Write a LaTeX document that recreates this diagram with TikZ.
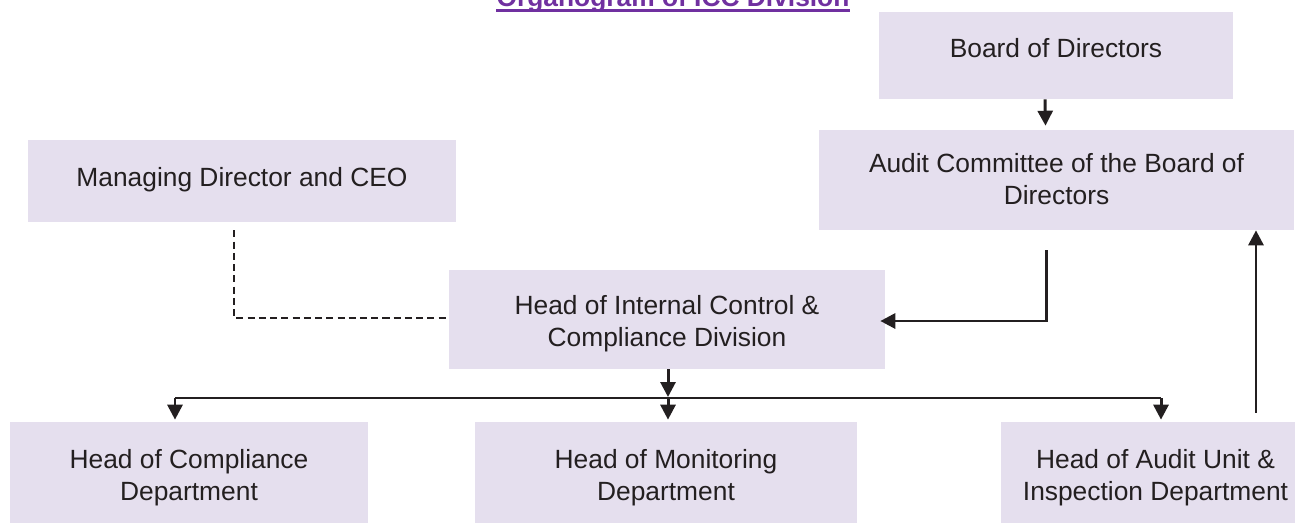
\documentclass[tikz,border=0pt]{standalone}
\usepackage{fontspec}
\setmainfont{Liberation Sans}
\usepackage{xcolor}
\usetikzlibrary{arrows.meta,positioning}
\definecolor{boxfill}{RGB}{229,223,238}
\definecolor{titlepurple}{RGB}{112,48,160}
\definecolor{ink}{RGB}{35,31,32}
\newcommand{\liftedtext}[2]{\raisebox{#1}[\height][\depth]{\begin{tabular}{@{}c@{}}#2\end{tabular}}}

\begin{document}
\begin{tikzpicture}[x=0.02cm,y=-0.02cm,
      font=\fontsize{15}{18.2}\selectfont,
      bx/.style={fill=boxfill,draw=none,align=center,text=ink,inner sep=0pt},
      ln/.style={draw=ink,line width=1.7pt},
      arr/.style={ln,-{Triangle[length=8.5pt,width=8.5pt]}},
      dsh/.style={draw=ink,line width=0.9pt,dash pattern=on 4pt off 2.4pt}]
    \clip (0,0) rectangle (1295,524);
    \node[font=\fontsize{15}{18}\selectfont\bfseries,text=titlepurple,inner sep=0pt,anchor=base] (title) at (673,7) {Organogram of ICC Division};
    \draw[titlepurple,line width=1.2pt] ([yshift=-0.07cm]title.base west) -- ([yshift=-0.07cm]title.base east);
    \node[bx,minimum width=7.08cm,minimum height=1.74cm] (board) at (1056,55.5) {\liftedtext{0.08cm}{Board of Directors}};
    \node[bx,minimum width=9.5cm,minimum height=2cm] (audit) at (1056.5,180) {\liftedtext{-0.05cm}{Audit Committee of the Board of\\Directors}};
    \node[bx,minimum width=8.56cm,minimum height=1.64cm] (md) at (242,181) {\liftedtext{0.02cm}{Managing Director and CEO}};
    \node[bx,minimum width=8.72cm,minimum height=1.98cm] (icc) at (667,319.5) {\liftedtext{-0.1cm}{Head of Internal Control \&\\Compliance Division}};
    \node[bx,minimum width=7.16cm,minimum height=2.02cm] (comp) at (189,472.5) {\liftedtext{-0.11cm}{Head of Compliance\\Department}};
    \node[bx,minimum width=7.64cm,minimum height=2.02cm] (mon) at (666,472.5) {\liftedtext{-0.11cm}{Head of Monitoring\\Department}};
    \node[bx,minimum width=6.18cm,minimum height=2.02cm] (aud) at (1155.5,472.5) {\liftedtext{-0.11cm}{Head of Audit Unit \&\\Inspection Department}};
    \coordinate (busl) at (175,398);
    \coordinate (busm) at (668,398);
    \coordinate (busr) at (1161,398);
    \draw[arr] ([xshift=-0.22cm]board.south) -- ([xshift=-0.22cm,yshift=0.08cm]audit.north);
    \draw[arr] ([xshift=-0.21cm,yshift=-0.4cm]audit.south) |- ([xshift=-0.1cm,yshift=-0.03cm]icc.east);
    \draw[arr] ([xshift=2.01cm,yshift=0.18cm]aud.north) -- ([xshift=2.01cm]aud.north |- audit.south);
    \draw[dsh] ([xshift=-0.16cm,yshift=-0.16cm]md.south) |- ([yshift=0.03cm]icc.west);
    \draw[ln] (busl) -- (busr);
    \draw[arr] (icc.south -| busm) -- ([yshift=0.02cm]busm);
    \draw[arr] (busl) -- ([yshift=0.04cm]busl |- comp.north);
    \draw[arr] (busm) -- ([yshift=0.04cm]busm |- mon.north);
    \draw[arr] (busr) -- ([yshift=0.04cm]busr |- aud.north);
\end{tikzpicture}
\end{document}
